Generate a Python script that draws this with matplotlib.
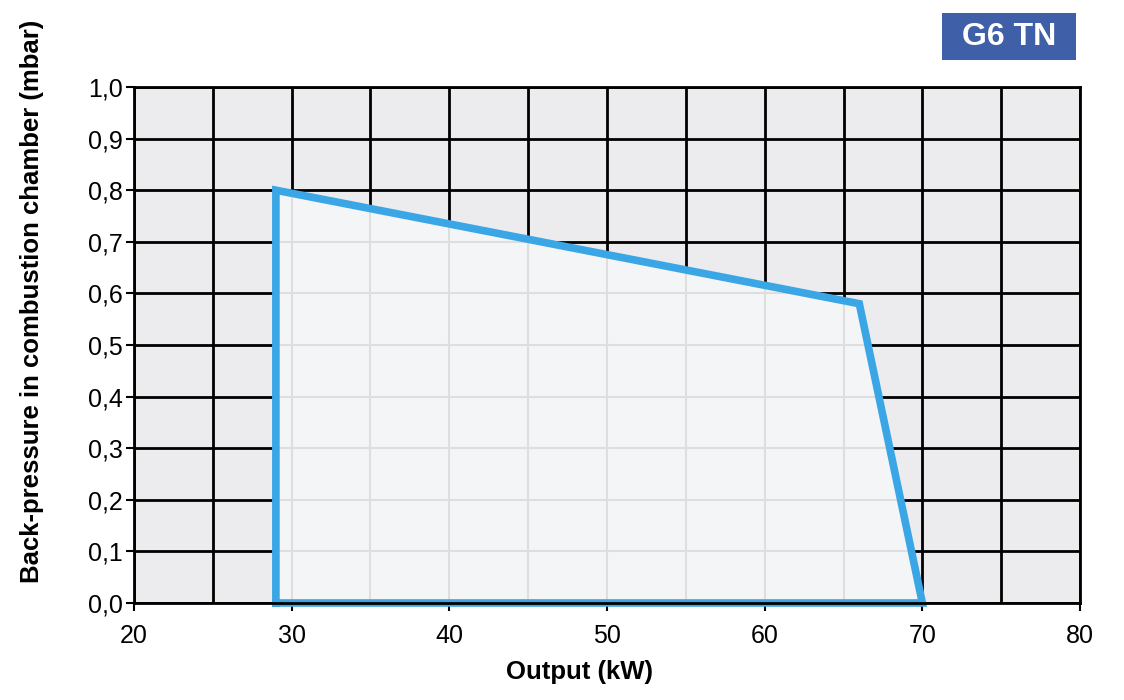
import matplotlib.pyplot as plt
from matplotlib.patches import Polygon, Rectangle
from matplotlib.ticker import FuncFormatter
import numpy as np

plt.rcParams['font.family'] = ['Liberation Sans', 'DejaVu Sans']

# operating range outline (output kW, back-pressure mbar)
output_kw = [29, 29, 66, 70, 29]
pressure_mbar = [0.0, 0.8, 0.58, 0.0, 0.0]

x_ticks = [20, 30, 40, 50, 60, 70, 80]
y_ticks = [0.0, 0.1, 0.2, 0.3, 0.4, 0.5, 0.6, 0.7, 0.8, 0.9, 1.0]
x_grid = np.arange(20, 81, 5)

blue = '#3aa6e6'

fig = plt.figure(figsize=(11.24, 7), dpi=100)
ax = fig.add_axes([0.1192, 0.1386, 0.8417, 0.7371])
ax.set_facecolor('#ececee')
ax.set_xlim(20, 80)
ax.set_ylim(0, 1.0)

# dark grid
for x in x_grid:
    ax.axvline(x, color='black', lw=2, zorder=1)
for y in y_ticks:
    ax.axhline(y, color='black', lw=2, zorder=1)

# lighter fill with faint grid inside the polygon
pts = np.column_stack([output_kw, pressure_mbar])
poly = Polygon(pts, closed=True, facecolor='#f4f5f7', edgecolor='none', zorder=2)
ax.add_patch(poly)
for x in x_grid:
    ln = ax.axvline(x, color='#dedede', lw=1.5, zorder=3)
    ln.set_clip_path(poly)
for y in y_ticks:
    ln = ax.axhline(y, color='#dedede', lw=1.5, zorder=3)
    ln.set_clip_path(poly)

ax.plot(output_kw, pressure_mbar, color=blue, lw=5.5, zorder=5,
        solid_joinstyle='miter', clip_on=False)

ax.set_xticks(x_ticks)
ax.set_yticks(y_ticks)
ax.yaxis.set_major_formatter(FuncFormatter(lambda v, p: f'{v:.1f}'.replace('.', ',')))
ax.tick_params(direction='out', length=6, width=1.5, labelsize=18, pad=2)
ax.tick_params(axis='x', pad=9)
for s in ax.spines.values():
    s.set_linewidth(2)
    s.set_zorder(6)

fig.text(580 / 1124, 1 - 672 / 700, 'Output (kW)', fontsize=18.5, fontweight='bold',
         ha='center', va='center')
fig.text(32 / 1124, 1 - 301 / 700, 'Back-pressure in combustion chamber (mbar)',
         fontsize=18.5, fontweight='bold', rotation=90, ha='center', va='center')

# label box top right
fig.patches.append(Rectangle((942 / 1124, 1 - 60 / 700), 134 / 1124, 47 / 700,
                             transform=fig.transFigure, facecolor='#3f5fa8',
                             edgecolor='none'))
fig.text(1009 / 1124, 1 - 37 / 700, 'G6 TN', fontsize=23, fontweight='bold',
         color='white', ha='center', va='center')

fig.savefig('out.png', dpi=100)
